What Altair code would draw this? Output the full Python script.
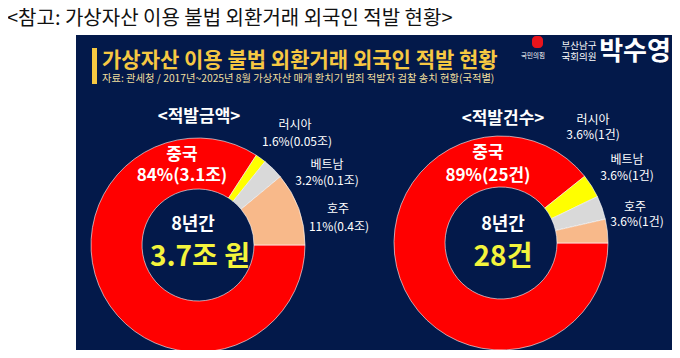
import math
import altair as alt
import pandas as pd

# ---------------- data ----------------
countries = ["중국", "러시아", "베트남", "호주"]
colors = ["#ff0000", "#ffff00", "#d9d9d9", "#f8b98a"]

amount_pct = [84, 1.6, 3.2, 11]
amount_pct_text = ["84%", "1.6%", "3.2%", "11%"]
amount_value_text = ["3.1조", "0.05조", "0.1조", "0.4조"]

count_values = [25, 1, 1, 1]
count_pct_text = ["89%", "3.6%", "3.6%", "3.6%"]
count_value_text = ["25건", "1건", "1건", "1건"]

page_title = "<참고: 가상자산 이용 불법 외환거래 외국인 적발 현황>"
panel_title = "가상자산 이용 불법 외환거래 외국인 적발 현황"
panel_source = "자료: 관세청 / 2017년~2025년 8월 가상자산 매개 환치기 범죄 적발자 검찰 송치 현황(국적별)"
left_heading = "<적발금액>"
right_heading = "<적발건수>"
period_text = "8년간"
left_total = "3.7조 원"
right_total = "28건"
logo_party = "국민의힘"
logo_district = "부산남구"
logo_role = "국회의원"
logo_name = "박수영"

FONT = "Noto Sans CJK KR"
NAVY = "#03194a"
GOLD = "#f6c842"
YEL = "#f4f43c"

dummy = pd.DataFrame({"a": [0]})


def txt(s, x, y, size, color="white", weight="normal", align="center", baseline="middle"):
    return alt.Chart(pd.DataFrame({"t": [s]})).mark_text(
        font=FONT, fontSize=size, color=color, fontWeight=weight,
        align=align, baseline=baseline
    ).encode(text="t:N", x=alt.value(x), y=alt.value(y))


def donut(values, cx, cy):
    df = pd.DataFrame({
        "country": countries,
        "value": values,
        "idx": list(range(len(countries))),
    })
    return alt.Chart(df).mark_arc(
        innerRadius=56, outerRadius=107, stroke="#ffffff", strokeWidth=0.6
    ).encode(
        theta=alt.Theta("value:Q", stack=True,
                        scale=alt.Scale(range=[math.pi / 2, math.pi / 2 + 2 * math.pi])),
        color=alt.Color("country:N", scale=alt.Scale(domain=countries, range=colors), legend=None),
        order=alt.Order("idx:Q"),
        x=alt.value(cx),
        y=alt.value(cy),
    )


panel = alt.Chart(dummy).mark_rect(color=NAVY).encode(
    x=alt.value(68), x2=alt.value(665), y=alt.value(27), y2=alt.value(345)
)
bar = alt.Chart(dummy).mark_rect(color=GOLD).encode(
    x=alt.value(84), x2=alt.value(89), y=alt.value(40), y2=alt.value(76)
)
logo = alt.Chart(dummy).mark_rect(color="#e8141c", cornerRadius=4).encode(
    x=alt.value(524), x2=alt.value(535), y=alt.value(28), y2=alt.value(40)
)

left_d = donut(amount_pct, 190, 237)
right_d = donut(count_values, 493, 235)

texts = [
    txt(page_title, -1, 17, 20, color="#111111", align="left", baseline="alphabetic"),
    txt(panel_title, 94, 53, 21, color=GOLD, weight="bold", align="left"),
    txt(panel_source, 94, 71, 10.3, color="#efdf9e", align="left"),
    txt(logo_party, 525, 48, 6.5),
    txt(logo_district, 571, 38, 9.5),
    txt(logo_role, 571, 48.5, 9.5),
    txt(logo_name, 627, 44, 26, weight="bold"),
    txt(left_heading, 191, 109, 17, weight="bold"),
    txt(right_heading, 495, 111, 17, weight="bold"),
    # left donut labels
    txt(countries[0], 174, 147, 17, weight="bold"),
    txt(f"{amount_pct_text[0]}({amount_value_text[0]})", 174, 168, 17, weight="bold"),
    txt(countries[1], 287, 117, 12),
    txt(f"{amount_pct_text[1]}({amount_value_text[1]})", 289, 134, 12),
    txt(countries[2], 319, 157, 12),
    txt(f"{amount_pct_text[2]}({amount_value_text[2]})", 319, 173, 12),
    txt(countries[3], 330, 201, 12),
    txt(f"{amount_pct_text[3]}({amount_value_text[3]})", 331, 219, 12),
    txt(period_text, 185, 217, 18, weight="bold"),
    txt(left_total, 192, 250, 28, color=YEL, weight="bold"),
    # right donut labels
    txt(countries[0], 480, 145, 17, weight="bold"),
    txt(f"{count_pct_text[0]}({count_value_text[0]})", 480, 168, 17, weight="bold"),
    txt(countries[1], 585, 112, 12),
    txt(f"{count_pct_text[1]}({count_value_text[1]})", 585, 127, 12),
    txt(countries[2], 619, 152, 12),
    txt(f"{count_pct_text[2]}({count_value_text[2]})", 619, 168, 12),
    txt(countries[3], 627, 199, 12),
    txt(f"{count_pct_text[3]}({count_value_text[3]})", 629, 214, 12),
    txt(period_text, 495, 217, 18, weight="bold"),
    txt(right_total, 495, 250, 28, color=YEL, weight="bold"),
]

chart = alt.layer(panel, bar, logo, left_d, right_d, *texts).resolve_scale(
    theta="independent"
).properties(
    width=664, height=342,
    autosize=alt.AutoSizeParams(type="none"),
    padding=0,
    background="white",
).configure_view(stroke=None)

chart.save("out.html", embed_options={"renderer": "svg", "actions": False})
